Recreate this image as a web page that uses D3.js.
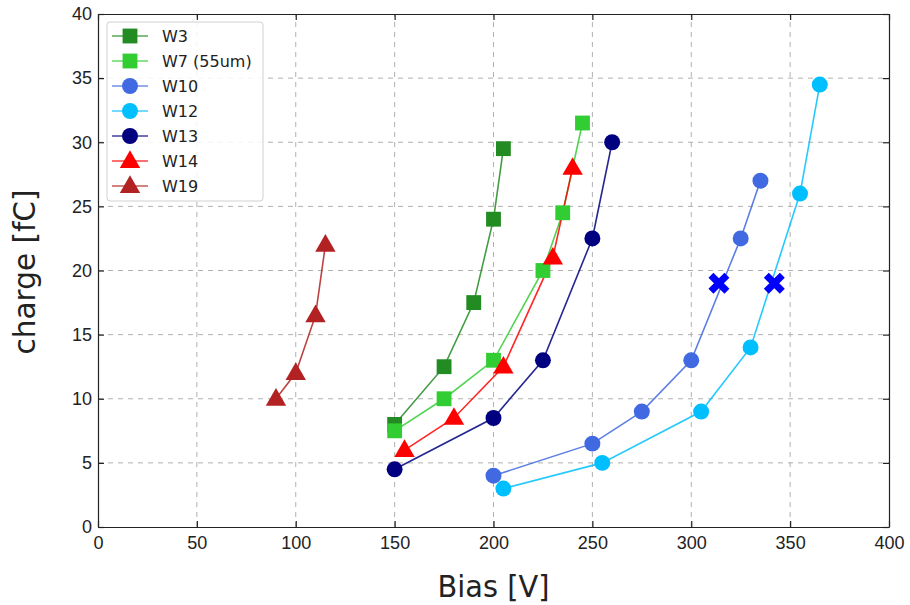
<!DOCTYPE html>
<html>
<head>
<meta charset="utf-8">
<script src="https://cdn.jsdelivr.net/npm/d3@7"></script>
<style>
  body { margin: 0; background: #fff; }
  svg { display: block; font-family: "DejaVu Sans", sans-serif; }
  .grid line { stroke: #b0b0b0; stroke-dasharray: 5,5; stroke-width: 1; }
</style>
</head>
<body>
<svg id="chart" width="910" height="605"></svg>
<script>
// Charge versus bias voltage for each wafer
const seriesNames = ["W3", "W7 (55um)", "W10", "W12", "W13", "W14", "W19"];
const seriesColors = ["#228B22", "#32CD32", "#4169E1", "#00BFFF", "#000080", "#FF0000", "#B22222"];
const seriesShapes = ["square", "square", "circle", "circle", "circle", "triangle", "triangle"];

const biasW3 = [150, 175, 190, 200, 205];
const chargeW3 = [8, 12.5, 17.5, 24, 29.5];
const biasW7 = [150, 175, 200, 225, 235, 245];
const chargeW7 = [7.5, 10, 13, 20, 24.5, 31.5];
const biasW10 = [200, 250, 275, 300, 325, 335];
const chargeW10 = [4, 6.5, 9, 13, 22.5, 27];
const biasW12 = [205, 255, 305, 330, 355, 365];
const chargeW12 = [3, 5, 9, 14, 26, 34.5];
const biasW13 = [150, 200, 225, 250, 260];
const chargeW13 = [4.5, 8.5, 13, 22.5, 30];
const biasW14 = [155, 180, 205, 230, 240];
const chargeW14 = [6, 8.5, 12.5, 21, 28];
const biasW19 = [90, 100, 110, 115];
const chargeW19 = [10, 12, 16.5, 22];

// Highlighted operating points
const markBias = [314, 342];
const markCharge = [19, 19];

const xTicks = [0, 50, 100, 150, 200, 250, 300, 350, 400];
const yTicks = [0, 5, 10, 15, 20, 25, 30, 35, 40];

const biasList = [biasW3, biasW7, biasW10, biasW12, biasW13, biasW14, biasW19];
const chargeList = [chargeW3, chargeW7, chargeW10, chargeW12, chargeW13, chargeW14, chargeW19];

const series = seriesNames.map((name, i) => ({
  name, color: seriesColors[i], shape: seriesShapes[i],
  points: biasList[i].map((b, j) => ({ x: b, y: chargeList[i][j] }))
}));

const svg = d3.select("#chart");
const m = { left: 98, right: 21, top: 14, bottom: 78 };
const W = 910, H = 605;
const x = d3.scaleLinear().domain([0, 400]).range([m.left, W - m.right]);
const y = d3.scaleLinear().domain([0, 40]).range([H - m.bottom, m.top]);

// grid
const grid = svg.append("g").attr("class", "grid");
grid.selectAll(".gx").data(xTicks.slice(1, -1)).join("line")
  .attr("x1", d => x(d)).attr("x2", d => x(d))
  .attr("y1", y(0)).attr("y2", y(40));
grid.selectAll(".gy").data(yTicks.slice(1, -1)).join("line")
  .attr("x1", x(0)).attr("x2", x(400))
  .attr("y1", d => y(d)).attr("y2", d => y(d));

// axes with inward ticks on all four sides
const tickLen = 6;
const gB = svg.append("g").attr("transform", `translate(0,${y(0)})`)
  .call(d3.axisBottom(x).tickValues(xTicks).tickSizeInner(-tickLen).tickSizeOuter(0).tickPadding(9));
const gT = svg.append("g").attr("transform", `translate(0,${y(40)})`)
  .call(d3.axisTop(x).tickValues(xTicks).tickSizeInner(-tickLen).tickSizeOuter(0).tickFormat(""));
const gL = svg.append("g").attr("transform", `translate(${x(0)},0)`)
  .call(d3.axisLeft(y).tickValues(yTicks).tickSizeInner(-tickLen).tickSizeOuter(0).tickPadding(6));
const gR = svg.append("g").attr("transform", `translate(${x(400)},0)`)
  .call(d3.axisRight(y).tickValues(yTicks).tickSizeInner(-tickLen).tickSizeOuter(0).tickFormat(""));
[gB, gT, gL, gR].forEach(g => {
  g.select(".domain").attr("stroke", "#222").attr("stroke-width", 1.2);
  g.selectAll(".tick line").attr("stroke", "#222").attr("stroke-width", 1.2);
});
gB.selectAll("text").attr("font-size", 18).attr("fill", "#222");
gL.selectAll("text").attr("font-size", 18).attr("fill", "#222");

// symbols
const symbolType = { square: d3.symbolSquare, circle: d3.symbolCircle, triangle: d3.symbolTriangle };
const symbolSize = { square: 220, circle: 200, triangle: 180 };
function drawMarker(g, shape, color) {
  g.append("path")
    .attr("d", d3.symbol().type(symbolType[shape]).size(symbolSize[shape]))
    .attr("fill", color)
    .attr("transform", shape === "triangle" ? "translate(0,1)" : null);
}

const line = d3.line().x(d => x(d.x)).y(d => y(d.y));
const plot = svg.append("g");
series.forEach(s => {
  plot.append("path").datum(s.points)
    .attr("d", line).attr("fill", "none")
    .attr("stroke", s.color).attr("stroke-width", 1.6).attr("stroke-opacity", 0.85);
});
series.forEach(s => {
  s.points.forEach(p => {
    const g = plot.append("g").attr("transform", `translate(${x(p.x)},${y(p.y)})`);
    drawMarker(g, s.shape, s.color);
  });
});

// highlighted X marks
const marks = markBias.map((b, i) => ({ x: b, y: markCharge[i] }));
const xs = 8;
plot.selectAll(".xmark").data(marks).join("path")
  .attr("d", `M${-xs},${-xs}L${xs},${xs}M${-xs},${xs}L${xs},${-xs}`)
  .attr("transform", d => `translate(${x(d.x)},${y(d.y)})`)
  .attr("stroke", "#0000FF").attr("stroke-width", 7).attr("fill", "none");

// legend
const lg = svg.append("g").attr("transform", "translate(107,22)");
lg.append("rect").attr("width", 156).attr("height", 179).attr("rx", 3)
  .attr("fill", "#fff").attr("fill-opacity", 0.85)
  .attr("stroke", "#d0d0d0").attr("stroke-width", 1);
series.forEach((s, i) => {
  const row = lg.append("g").attr("transform", `translate(0,${14 + i * 25})`);
  row.append("line").attr("x1", 5).attr("x2", 41)
    .attr("stroke", s.color).attr("stroke-width", 1.6).attr("stroke-opacity", 0.75);
  const mg = row.append("g").attr("transform", "translate(23,0)");
  drawMarker(mg, s.shape, s.color);
  row.append("text").attr("x", 55).attr("y", 6).attr("font-size", 16)
    .attr("fill", "#222").text(s.name);
});

// axis titles
svg.append("text")
  .attr("transform", `translate(${x(200)},597) scale(0.93,1)`)
  .attr("text-anchor", "middle")
  .attr("font-size", 31).attr("fill", "#222")
  .text("Bias [V]");
svg.append("text").attr("transform", `translate(35,272) rotate(-90)`)
  .attr("text-anchor", "middle").attr("font-size", 29.5).attr("fill", "#222")
  .text("charge [fC]");
</script>
</body>
</html>
